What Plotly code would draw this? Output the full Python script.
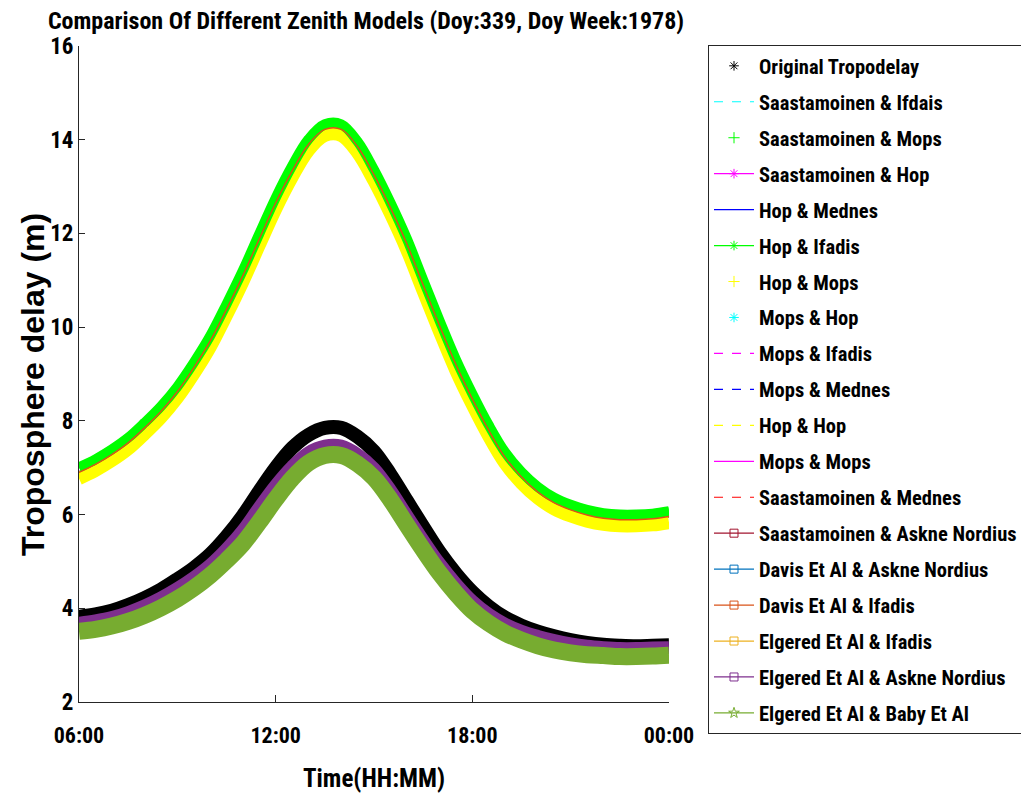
import plotly.graph_objects as go

# ---------------- data ----------------
hours = [6.0, 6.5, 7.0, 7.5, 8.0, 8.5, 9.0, 9.5, 10.0, 10.5, 11.0, 11.5, 12.0, 12.5, 13.0, 13.5,
         14.0, 14.5, 15.0, 15.5, 16.0, 16.5, 17.0, 17.5, 18.0, 18.5, 19.0, 19.5, 20.0, 20.5,
         21.0, 21.5, 22.0, 22.5, 23.0, 23.5, 24.0]
tick_vals = [6, 12, 18, 24]
tick_text = ["06:00", "12:00", "18:00", "00:00"]

# upper group (mapping-function combinations)
hop_ifadis = [7.01, 7.18, 7.39, 7.64, 7.96, 8.31, 8.73, 9.24, 9.81, 10.49, 11.21, 11.99, 12.76, 13.44, 14.01, 14.33,
              14.33, 13.96, 13.36, 12.66, 11.89, 11.01, 10.14, 9.31, 8.58, 7.91, 7.33, 6.91, 6.59, 6.36,
              6.21, 6.10, 6.03, 6.00, 6.00, 6.02, 6.07]
upper_mid = [6.90, 7.07, 7.28, 7.53, 7.85, 8.20, 8.62, 9.13, 9.70, 10.38, 11.10, 11.88, 12.65, 13.33, 13.90, 14.22,
             14.22, 13.85, 13.25, 12.55, 11.78, 10.90, 10.03, 9.20, 8.47, 7.80, 7.22, 6.80, 6.48, 6.25,
             6.10, 5.99, 5.92, 5.89, 5.89, 5.91, 5.96]
hop_mops = [6.77, 6.94, 7.15, 7.40, 7.72, 8.07, 8.49, 9.00, 9.57, 10.25, 10.97, 11.75, 12.52, 13.20, 13.77, 14.09,
            14.09, 13.72, 13.12, 12.42, 11.65, 10.77, 9.90, 9.07, 8.34, 7.67, 7.09, 6.67, 6.35, 6.12,
            5.97, 5.86, 5.79, 5.76, 5.76, 5.78, 5.83]

# lower group
original = [3.82, 3.87, 3.95, 4.07, 4.22, 4.40, 4.62, 4.86, 5.15, 5.53, 5.98, 6.50, 7.00, 7.42, 7.70, 7.85,
            7.85, 7.66, 7.35, 6.86, 6.30, 5.74, 5.20, 4.74, 4.35, 4.04, 3.80, 3.63, 3.50, 3.40,
            3.32, 3.26, 3.22, 3.20, 3.19, 3.20, 3.21]
elgered_askne = [3.68, 3.73, 3.80, 3.91, 4.05, 4.22, 4.42, 4.65, 4.92, 5.26, 5.66, 6.15, 6.62, 7.02, 7.32, 7.46,
                 7.46, 7.28, 6.98, 6.52, 5.98, 5.45, 4.95, 4.52, 4.15, 3.87, 3.66, 3.51, 3.40, 3.31,
                 3.24, 3.19, 3.16, 3.14, 3.14, 3.15, 3.16]
elgered_baby = [3.51, 3.55, 3.62, 3.72, 3.85, 4.01, 4.20, 4.43, 4.70, 5.02, 5.38, 5.84, 6.33, 6.77, 7.10, 7.26,
                7.26, 7.08, 6.78, 6.32, 5.78, 5.25, 4.75, 4.32, 3.95, 3.68, 3.47, 3.32, 3.20, 3.11,
                3.05, 3.01, 2.99, 2.97, 2.97, 2.98, 3.00]

series_names = [
    "Original Tropodelay", "Saastamoinen & Ifdais", "Saastamoinen & Mops",
    "Saastamoinen & Hop", "Hop & Mednes", "Hop & Ifadis", "Hop & Mops",
    "Mops & Hop", "Mops & Ifadis", "Mops & Mednes", "Hop & Hop", "Mops & Mops",
    "Saastamoinen & Mednes", "Saastamoinen & Askne Nordius",
    "Davis Et Al & Askne Nordius", "Davis Et Al & Ifadis",
    "Elgered Et Al & Ifadis", "Elgered Et Al & Askne Nordius",
    "Elgered Et Al & Baby Et Al",
]
# legend styles: (mode, color, dash, marker symbol)
styles = [
    ("markers", "#000000", None, "asterisk-open"),
    ("lines", "#00FFFF", "dash", None),
    ("markers", "#00FF00", None, "cross-thin-open"),
    ("lines+markers", "#FF00FF", "solid", "asterisk-open"),
    ("lines", "#0000FF", "solid", None),
    ("lines+markers", "#00FF00", "solid", "asterisk-open"),
    ("markers", "#FFFF00", None, "cross-thin-open"),
    ("markers", "#00FFFF", None, "asterisk-open"),
    ("lines", "#FF00FF", "dash", None),
    ("lines", "#0000FF", "dash", None),
    ("lines", "#FFFF00", "dash", None),
    ("lines", "#FF00FF", "solid", None),
    ("lines", "#FF0000", "dash", None),
    ("lines+markers", "#A2142F", "solid", "square-open"),
    ("lines+markers", "#0072BD", "solid", "square-open"),
    ("lines+markers", "#D95319", "solid", "square-open"),
    ("lines+markers", "#EDB120", "solid", "square-open"),
    ("lines+markers", "#7E2F8E", "solid", "square-open"),
    ("lines+markers", "#77AC30", "solid", "star-open"),
]

fig = go.Figure()

# hidden upper-group combinations (under the visible bands)
for i in [1, 3, 4, 7, 8, 9, 10, 11, 12, 13, 14, 16]:
    fig.add_trace(go.Scatter(x=hours, y=upper_mid, mode="lines", line=dict(color=styles[i][1], width=2, shape="spline"),
                             showlegend=False, hoverinfo="skip", name=series_names[i]))
# visible bands
fig.add_trace(go.Scatter(x=hours, y=hop_mops, mode="lines", line=dict(color="#FFFF00", width=13, shape="spline"),
                         showlegend=False, name=series_names[6]))
fig.add_trace(go.Scatter(x=hours, y=hop_ifadis, mode="lines", line=dict(color="#00FF00", width=10, shape="spline"),
                         showlegend=False, name=series_names[5]))
fig.add_trace(go.Scatter(x=hours, y=hop_ifadis, mode="lines", line=dict(color="#00FF00", width=8, shape="spline"),
                         showlegend=False, name=series_names[2]))
fig.add_trace(go.Scatter(x=hours, y=upper_mid, mode="lines", line=dict(color="#D95319", width=1.5, shape="spline"),
                         showlegend=False, name=series_names[15]))
fig.add_trace(go.Scatter(x=hours, y=original, mode="lines", line=dict(color="#000000", width=14, shape="spline"),
                         showlegend=False, name=series_names[0]))
fig.add_trace(go.Scatter(x=hours, y=elgered_askne, mode="lines", line=dict(color="#7E2F8E", width=13, shape="spline"),
                         showlegend=False, name=series_names[17]))
fig.add_trace(go.Scatter(x=hours, y=elgered_baby, mode="lines", line=dict(color="#77AC30", width=17, shape="spline"),
                         showlegend=False, name=series_names[18]))

# legend entries
for i, (name, (mode, color, dash, sym)) in enumerate(zip(series_names, styles)):
    kw = dict(x=[None], y=[None], mode=mode, name=name, legendgroup="g%d" % i, showlegend=True)
    if "lines" in mode:
        kw["line"] = dict(color=color, width=1.2, dash=dash)
    if "markers" in mode:
        kw["marker"] = dict(symbol=sym, color=color, size=8, line=dict(color=color, width=1))
    fig.add_trace(go.Scatter(**kw))

narrow = "Liberation Sans Narrow, Arial Narrow, Roboto Condensed, DejaVu Sans Condensed, sans-serif"
axis_col = "#262626"

# page body has an 8px margin: figure is 8px smaller and shifted accordingly
fig.update_layout(
    width=1021, height=793,
    margin=dict(l=71, r=360, t=38, b=99, autoexpand=False),
    paper_bgcolor="white", plot_bgcolor="white",
    font=dict(family=narrow, size=22, color="#000000", weight="bold"),
    title=dict(text="Comparison Of Different Zenith Models (Doy:339, Doy Week:1978)",
               font=dict(family=narrow, size=24, color="#000000", weight="bold"),
               x=358 / 1021, xanchor="center", xref="container", y=1 - 12.5 / 793, yanchor="middle", yref="container"),
    xaxis=dict(range=[6, 24], tickvals=tick_vals, ticktext=tick_text, showgrid=False, zeroline=False,
               showline=True, linecolor=axis_col, linewidth=1, ticks="inside", ticklen=7, tickcolor=axis_col,
               tickfont=dict(family=narrow, size=22, color="#000000", weight="bold"), ticklabelstandoff=14,
               title=dict(text="Time(HH:MM)", font=dict(family=narrow, size=25, color="#000000", weight="bold"), standoff=22),
               automargin=False, mirror=False),
    yaxis=dict(range=[2, 16], dtick=2, showgrid=False, zeroline=False,
               showline=True, linecolor=axis_col, linewidth=1, ticks="inside", ticklen=6, tickcolor=axis_col,
               tickfont=dict(family=narrow, size=23, color="#000000", weight="bold"),
               automargin=False, mirror=False),
    annotations=[dict(text="Troposphere delay (m)", textangle=-90, showarrow=False,
                      xref="paper", yref="paper", x=(25 - 71) / 590, y=(694 - 377) / 656,
                      xanchor="center", yanchor="middle",
                      font=dict(family="Liberation Sans, Arial, sans-serif", size=32, color="#000000", weight="bold"))],
    legend=dict(x=(700 - 71) / 590, xanchor="left", y=(694 - 37) / 656, yanchor="top",
                bordercolor="#262626", borderwidth=1, bgcolor="white",
                font=dict(family=narrow, size=20.5, color="#000000", weight="bold"),
                traceorder="grouped", tracegroupgap=6.3, itemwidth=40, maxheight=780),
)

fig.write_html("out.html")
